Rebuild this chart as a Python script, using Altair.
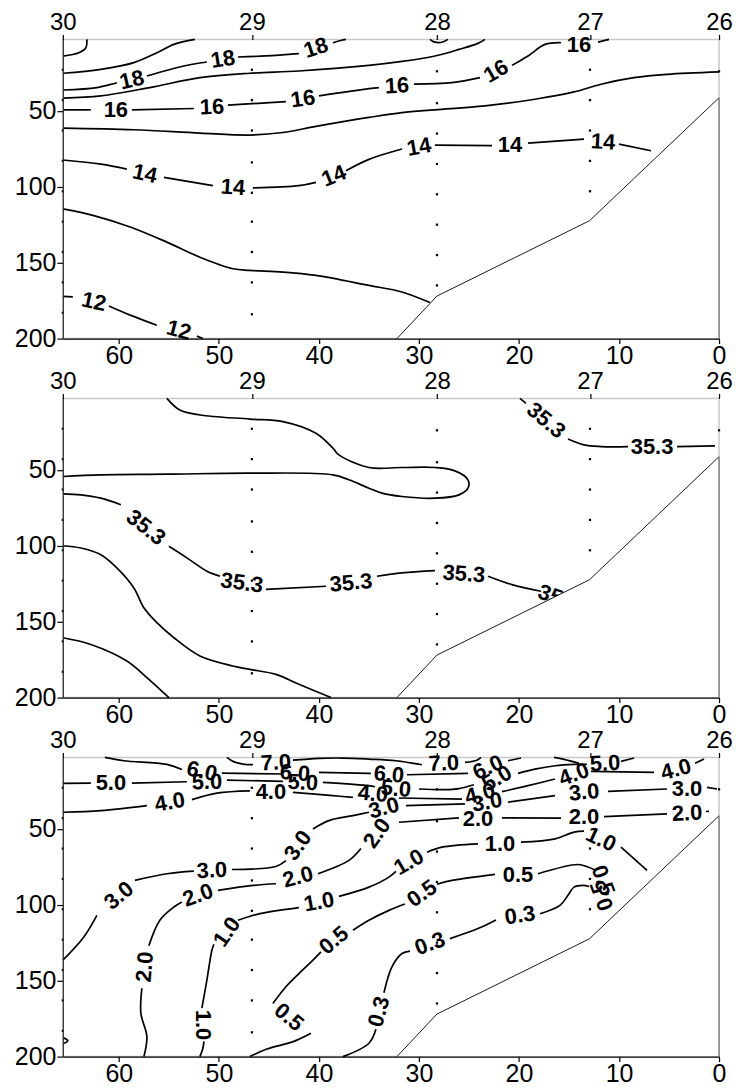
import altair as alt
import pandas as pd

# ---------------- axes / stations ----------------
X_DOMAIN = [65.6, 0.0]          # distance (km)
Y_DOMAIN = [3, 200]             # depth (m)
STATION_KM = [65.6, 46.7, 28.2, 12.9, 0.0]
STATION_NAMES = ["30", "29", "28", "27", "26"]
DIST_TICKS = [60, 50, 40, 30, 20, 10, 0]
DEPTH_TICKS = [50, 100, 150, 200]

# bottom profile
BATHY_KM = [32.2, 28.2, 12.95, 0.0]
BATHY_DEPTH = [200, 172, 122.4, 41.4]

# sample depths at each station
DOTS_30 = [23, 43, 63, 83, 103, 123, 143, 163, 183]
DOTS_29 = [23, 43, 63, 84, 104, 123, 143, 163, 184]
DOTS_28 = [24, 45, 65, 85, 105, 125, 145, 165]
DOTS_27 = [23, 43, 63, 83, 103]
DOTS_26 = [24]

# ---------------- panel 1: temperature ----------------
T20 = [[(63.2, 3), (63.3, 8.5), (64.0, 11.8), (65.6, 14)]]
T19 = [[(65.6, 25.3), (61.8, 22.7), (58.5, 18.3), (56.2, 11.8), (54.5, 6.3), (52.4, 3)]]
T18 = [[(65.6, 36.3), (62.2, 34.7), (60.2, 31.5)],
       [(57.2, 27.1), (53.5, 20.5), (51.2, 17.9)],
       [(48.1, 14.6), (45.3, 13.9), (42.0, 12.4)],
       [(38.6, 5.2), (37.8, 3.7), (37.3, 3)],
       [(28.9, 3), (28.5, 4.6), (27.7, 4.9), (27.1, 3)]]
T18_LAB = [(58.7, 29.7, 347), (49.6, 16.1, 351), (40.3, 8.5, 342)]
T17 = [[(65.6, 41.7), (61.8, 40.2), (56.9, 34.7), (51.9, 28.2), (46.9, 25.3), (42.0, 23.8),
        (35.0, 20.1), (31.7, 17.5), (28.4, 13.9), (26.0, 9.6), (24.1, 5.6), (23.4, 3)]]
T16 = [[(65.6, 49.4), (62.8, 49.4)],
       [(58.7, 49.4), (52.5, 48.5)],
       [(49.1, 46.3), (43.3, 44.0)],
       [(40.0, 40.2), (35.0, 35.4), (34.0, 34.7)],
       [(30.5, 32.5), (26.7, 31.5), (23.9, 28.2)],
       [(20.7, 20.1), (19.1, 13.9), (17.4, 6.3), (15.8, 5.2)],
       [(12.1, 4.8), (11.0, 3)]]
T16_LAB = [(60.3, 49.4, 0), (50.7, 47.5, 358), (41.6, 42.2, 352), (32.2, 33.6, 357),
           (22.3, 24.0, 330), (14.0, 6.5, 0)]
T15 = [[(65.6, 61.4), (58.5, 62.5), (51.9, 64.7), (46.9, 66), (43.6, 64.3), (40.3, 60.3),
        (35.0, 54.4), (31.7, 51.2), (28.4, 49.4), (23.4, 46.8), (18.4, 42.4), (14.5, 37.6),
        (11.8, 32.5), (8.5, 28.2), (5.2, 26), (0, 24.4)]]
T14 = [[(65.6, 82.4), (61.8, 85.1), (59.2, 88.4)],
       [(55.5, 93.8), (50.6, 99.3)],
       [(46.6, 100.8), (42.0, 99.3), (40.3, 97.1)],
       [(37.3, 89.5), (35.0, 82.0), (31.7, 75.2)],
       [(28.4, 72.6), (22.7, 73)],
       [(19.1, 71.3), (13.5, 68.7)],
       [(10.0, 72), (6.8, 76.3)]]
T14_LAB = [(57.4, 91.5, 12), (48.6, 100.4, 4), (38.5, 93.0, 338), (30.0, 73.8, 350),
           (20.9, 72.6, 0), (11.6, 70.5, 3)]
T13 = [[(65.6, 114.6), (62.5, 119), (58.8, 126.7), (55.2, 136.5), (51.9, 146.4), (48.6, 154),
        (46.9, 155.1), (43.6, 156.2), (40.3, 158.4), (35.0, 165), (31.7, 169.3), (28.9, 176.3)]]
T12 = [[(65.6, 172.2), (64.6, 172.6)],
       [(61.0, 178.5), (58.8, 184.7), (56.2, 191.2)],
       [(52.2, 198.4), (51.6, 200)]]
T12_LAB = [(62.5, 175.8, 12), (54.0, 194.5, 15)]

# ---------------- panel 2: salinity ----------------
S_LOOP = [[(55.2, 3), (53.9, 10.7), (51.9, 13.9), (46.9, 16.6), (43.6, 18.3), (40.3, 26),
           (38.6, 35.8), (38.0, 40.2), (35.0, 48.5), (31.7, 48.5), (28.4, 48.5), (26.4, 50.7),
           (25.1, 56.6), (25.1, 62.1), (26.0, 66.5), (28.4, 68.7), (31.7, 67.6), (33.7, 65.4),
           (35.0, 62.1), (37.0, 56.6), (38.6, 53.3), (46.9, 52.2), (55.2, 52.9), (61.8, 53.3),
           (65.6, 54.4)]]
S353 = [[(65.6, 65.8), (63.8, 66.5), (61.8, 68.7), (59.8, 73)],
        [(55.0, 100.4), (53.2, 108), (51.2, 116.8), (49.9, 120)],
        [(45.3, 128.8), (39.3, 126.7)],
        [(34.2, 120.1), (31.7, 117.9), (28.4, 116.4)],
        [(23.1, 120.1), (20.7, 125.6), (17.8, 130)],
        [(19.9, 3), (19.3, 6.3)],
        [(15.1, 29.7), (13.5, 33.6), (11.8, 34.7), (9.1, 34.7)],
        [(4.2, 34.7), (0.4, 34.3)]]
S353_LAB = [(57.3, 88.0, 38), (47.7, 124.5, 8), (36.8, 124.5, 355), (25.5, 118.6, 4),
            (16.0, 134.5, 20), (17.3, 17.5, 40), (6.7, 34.7, 0)]
S_LOW1 = [[(65.6, 100), (63.8, 101.5), (61.8, 105.9), (60.2, 114.6), (58.5, 127.8), (57.5, 140.9),
           (56.2, 150.7), (54.5, 160.6), (51.9, 172.6), (48.6, 179.2), (46.9, 181.4), (44.3, 184.7),
           (42.0, 191.2), (38.8, 200)]]
S_LOW2 = [[(65.6, 160.6), (62.8, 165), (59.2, 175.9), (57.2, 186.8), (55.0, 200)]]

# ---------------- panel 3 ----------------
C70 = [[(49.2, 3), (48.6, 5.6), (47.6, 7.4), (46.6, 7.8)],
       [(42.6, 4.8), (40.0, 3.6), (37.6, 3.4), (35.0, 4.1), (32.3, 5.2), (29.7, 7.8)],
       [(25.4, 6.3), (24.2, 4.8), (23.8, 3)]]
C70_LAB = [(44.3, 6.5, 357), (27.5, 6.9, 357)]
C60 = [[(61.4, 3), (59.5, 5.2), (55.2, 7.6), (53.7, 11.0)],
       [(49.7, 13.3), (43.6, 13.9)],
       [(40.0, 12.8), (35.0, 13.5), (34.8, 13.6)],
       [(31.2, 14.4), (25.1, 13.5)],
       [(21.1, 5.2), (19.8, 3.4)],
       [(16.5, 3), (15.5, 4.3), (14.0, 6.9)]]
C60_LAB = [(51.7, 12.2, 12), (42.4, 13.3, 5), (33.0, 14.2, 5), (23.1, 9.6, 335)]
C50 = [[(65.6, 20.1), (62.8, 19.9)],
       [(58.7, 19.9), (53.2, 19.0)],
       [(49.2, 17.9), (43.6, 18.8)],
       [(39.6, 19.4), (35.0, 21.6), (34.4, 22.3)],
       [(30.0, 23.8), (27.5, 24.2), (26.0, 23.5), (24.5, 21)],
       [(20.1, 13.5), (18.4, 10.7), (16.4, 8.5), (14.5, 7.6), (13.2, 7.5)],
       [(9.8, 5.6), (8.5, 3.4)]]
C50_LAB = [(60.8, 20.1, 0), (51.2, 19.2, 358), (41.6, 19.6, 3), (32.3, 23.6, 5),
           (22.2, 16.8, 330), (11.4, 7.0, 357)]
C40 = [[(65.6, 39.1), (61.8, 38.0), (57.2, 34.7)],
       [(52.7, 30.8), (50.2, 26.5), (46.9, 25.0)],
       [(42.6, 26.0), (38.6, 28.2), (36.6, 29.3)],
       [(32.0, 29.7), (25.7, 30.4)],
       [(21.7, 25.5), (19.1, 21.6), (16.4, 17.2)],
       [(12.8, 12.2), (6.5, 12.8)],
       [(2.4, 6.9), (1.5, 4.1)]]
C40_LAB = [(54.9, 32.5, 350), (44.8, 25.8, 0), (34.6, 27.0, 5), (23.9, 27.0, 345),
           (14.5, 14.2, 340), (4.3, 11.0, 345)]
C30 = [[(65.6, 136.5), (63.5, 121.2), (62.2, 107)],
       [(58.4, 84), (55.2, 79.6), (52.5, 77.9)],
       [(48.7, 76.8), (44.3, 74.8), (43.3, 71.0)],
       [(40.6, 50.1), (39.0, 44.6), (36.6, 41.3), (35.0, 39.1)],
       [(31.3, 34.7), (25.4, 33.6)],
       [(21.1, 32.5), (16.4, 28.2)],
       [(11.1, 25.3), (5.2, 23.8)],
       [(1.2, 22.7), (0.2, 23.8)]]
C30_LAB = [(60.0, 94.0, 320), (50.7, 77.4, 357), (42.1, 61.0, 305), (33.5, 36.3, 345),
           (23.2, 32.5, 350), (13.5, 26.0, 355), (3.2, 23.8, 0)]
C20 = [[(57.5, 200), (57.2, 186.8), (57.8, 171.5), (57.7, 155)],
       [(57.0, 127), (55.9, 110.2), (54.5, 101.5), (53.7, 98.2)],
       [(50.1, 90.5), (46.6, 87.3), (44.3, 86.2)],
       [(40.1, 79.6), (37.0, 70.8), (35.8, 63)],
       [(32.0, 45.7), (26.0, 42.8)],
       [(21.7, 42.8), (15.8, 43.0)],
       [(11.5, 42.0), (5.2, 40.2)],
       [(1.3, 38.6), (1.0, 38.5)]]
C20_LAB = [(57.4, 141.0, 275), (52.1, 93.8, 340), (42.1, 81.8, 345), (34.2, 53.0, 305),
           (24.1, 43.5, 0), (13.5, 42.4, 0), (3.2, 39.8, 357)]
C10 = [[(51.9, 200), (51.6, 194.5), (51.5, 190)],
       [(51.7, 168), (51.2, 149.6), (50.7, 130), (50.5, 126)],
       [(48.1, 110.2), (45.9, 105.9), (42.0, 101.9)],
       [(38.0, 94.5), (35.0, 88.4), (33.0, 81.8), (32.3, 78)],
       [(29.2, 65.4), (27.7, 62.1), (24.1, 59.9)],
       [(19.8, 58.8), (16.4, 56.6), (14.5, 52.2), (13.5, 51.5)],
       [(9.8, 62.1), (7.2, 77.4)]]
C10_LAB = [(51.6, 179.2, 90), (49.2, 118.0, 305), (40.0, 98.2, 350), (31.0, 72.0, 330),
           (21.9, 59.9, 0), (11.8, 57.0, 25)]
C05 = [[(46.9, 200), (45.2, 195), (42.5, 190), (40.8, 184.7)],
       [(44.6, 165), (43.3, 154), (42.0, 145.3), (40.6, 136.5), (39.8, 131)],
       [(36.6, 116.8), (35.0, 110.2), (33.0, 103.7), (31.4, 99.5)],
       [(28.2, 86.5), (26.7, 84.0), (22.4, 80.0)],
       [(18.1, 79.6), (14.1, 73.5), (13.1, 75.2), (12.3, 77.5)]]
C05_LAB = [(43.0, 174.0, 40), (38.5, 123.4, 320), (29.7, 92.7, 325), (20.1, 80.7, 0),
           (11.6, 84.0, 70), (11.7, 94.0, 250)]
C03 = [[(37.6, 200), (35.0, 191.2), (34.3, 182)],
       [(33.5, 158), (32.7, 140.9), (31.7, 132.1), (30.9, 130.5)],
       [(26.9, 122.3), (24.1, 115.7), (22.3, 110)],
       [(17.9, 105.9), (15.9, 100.4), (15.1, 93.8), (14.5, 88.4), (13.6, 87.3), (13.0, 88)]]
C03_LAB = [(34.0, 170.4, 285), (28.9, 125.6, 340), (19.9, 107.0, 352)]
C_EDGE = [[(65.6, 187.5), (65.1, 189.5), (65.6, 191.5)]]

# ---------------- styling ----------------
FONT = "Liberation Sans"
LABEL_SIZE = 22
AXIS_SIZE = 25
TOP_SIZE = 24
PANEL_W = 658
PANEL_H = 300


def lines_frame(levels):
    rows = []
    sid = 0
    for pieces in levels:
        for piece in pieces:
            for i, (k, d) in enumerate(piece):
                rows.append({"seg": sid, "i": i, "km": k, "depth": d})
            sid += 1
    return pd.DataFrame(rows)


def labels_frame(groups):
    rows = []
    for text, labs in groups:
        for k, d, a in labs:
            rows.append({"km": k, "depth": d, "a": a, "t": text})
    return pd.DataFrame(rows)


def dots_frame():
    rows = []
    for km, depths in zip(STATION_KM, [DOTS_30, DOTS_29, DOTS_28, DOTS_27, DOTS_26]):
        for d in depths:
            rows.append({"km": km, "depth": d})
    return pd.DataFrame(rows)


bathy_df = pd.DataFrame({"km": BATHY_KM, "depth": BATHY_DEPTH, "bottom": [200] * len(BATHY_KM)})
right_df = pd.DataFrame({"km": [0.0], "depth": [BATHY_DEPTH[-1]], "d2": [200]})

top_expr = ("datum.value > 60 ? '30' : datum.value > 40 ? '29' : "
            "datum.value > 20 ? '28' : datum.value > 5 ? '27' : '26'")


def panel(levels, label_groups):
    xs = alt.Scale(domain=X_DOMAIN, nice=False, zero=False)
    ys = alt.Scale(domain=Y_DOMAIN, reverse=True, nice=False, zero=False)
    bottom_axis = alt.Axis(orient="bottom", values=DIST_TICKS, title=None, grid=False,
                           tickSize=5, labelPadding=0, labelFontSize=AXIS_SIZE, labelFont=FONT,
                           labelColor="black", domainColor="black", tickColor="black",
                           domainWidth=1.3, tickWidth=1.2, labelFlush=False, labelOverlap=False,
                           zindex=1)
    left_axis = alt.Axis(orient="left", values=DEPTH_TICKS, title=None, grid=False,
                         tickSize=6, labelPadding=1, labelFontSize=AXIS_SIZE, labelFont=FONT,
                         labelColor="black", domainColor="#333333", tickColor="black",
                         domainWidth=1.2, tickWidth=1.2, labelOverlap=False, zindex=1)
    top_axis = alt.Axis(orient="top", values=STATION_KM, title=None, grid=False,
                        tickSize=5, labelPadding=0, labelFontSize=TOP_SIZE, labelFont=FONT,
                        labelColor="black", domain=False, tickColor="black", tickWidth=1.2,
                        labelFlush=False, labelOverlap=False, labelExpr=top_expr)

    lines = alt.Chart(lines_frame(levels)).mark_line(
        color="black", strokeWidth=1.7, interpolate="catmull-rom"
    ).encode(
        x=alt.X("km:Q", scale=xs, axis=bottom_axis),
        y=alt.Y("depth:Q", scale=ys, axis=left_axis),
        detail="seg:N", order="i:Q",
    )
    layers = [lines]
    if label_groups:
        labels = alt.Chart(labels_frame(label_groups)).mark_text(
            font=FONT, fontSize=LABEL_SIZE, fontWeight="bold", color="black",
            align="center", baseline="middle"
        ).encode(
            x=alt.X("km:Q", scale=xs, axis=None),
            y=alt.Y("depth:Q", scale=ys, axis=None),
            text="t:N",
            angle=alt.Angle("a:Q", scale=None),
        )
        layers.append(labels)
    ground = alt.Chart(bathy_df).mark_area(color="white", opacity=1).encode(
        x=alt.X("km:Q", scale=xs, axis=None),
        y=alt.Y("depth:Q", scale=ys, axis=None),
        y2="bottom:Q",
    )
    bathy = alt.Chart(bathy_df).mark_line(color="black", strokeWidth=0.9).encode(
        x=alt.X("km:Q", scale=xs, axis=None),
        y=alt.Y("depth:Q", scale=ys, axis=None),
    )
    right = alt.Chart(right_df).mark_rule(color="#808080", strokeWidth=1.5).encode(
        x=alt.X("km:Q", scale=xs, axis=None),
        y=alt.Y("depth:Q", scale=ys, axis=None),
        y2="d2:Q",
    )
    dots = alt.Chart(dots_frame()).mark_square(size=5, color="black", opacity=1).encode(
        x=alt.X("km:Q", scale=xs, axis=top_axis),
        y=alt.Y("depth:Q", scale=ys, axis=None),
    )
    layers += [ground, bathy, right, dots]
    return (alt.layer(*layers).properties(width=PANEL_W, height=PANEL_H)
            .resolve_axis(x="independent", y="independent"))


p1 = panel([T20, T19, T18, T17, T16, T15, T14, T13, T12],
           [("18", T18_LAB), ("16", T16_LAB), ("14", T14_LAB), ("12", T12_LAB)])
p2 = panel([S_LOOP, S353, S_LOW1, S_LOW2], [("35.3", S353_LAB)])
p3 = panel([C70, C60, C50, C40, C30, C20, C10, C05, C03, C_EDGE],
           [("7.0", C70_LAB), ("6.0", C60_LAB), ("5.0", C50_LAB), ("4.0", C40_LAB),
            ("3.0", C30_LAB), ("2.0", C20_LAB), ("1.0", C10_LAB), ("0.5", C05_LAB),
            ("0.3", C03_LAB)])

chart = alt.vconcat(p1, p2, p3, spacing=60, bounds="flush").properties(
    padding={"left": 5, "top": 0, "right": 0, "bottom": 0}
).configure_view(stroke="#c8c8c8", strokeWidth=1.5)

chart.save("out.html", embed_options={"renderer": "svg", "actions": False})
